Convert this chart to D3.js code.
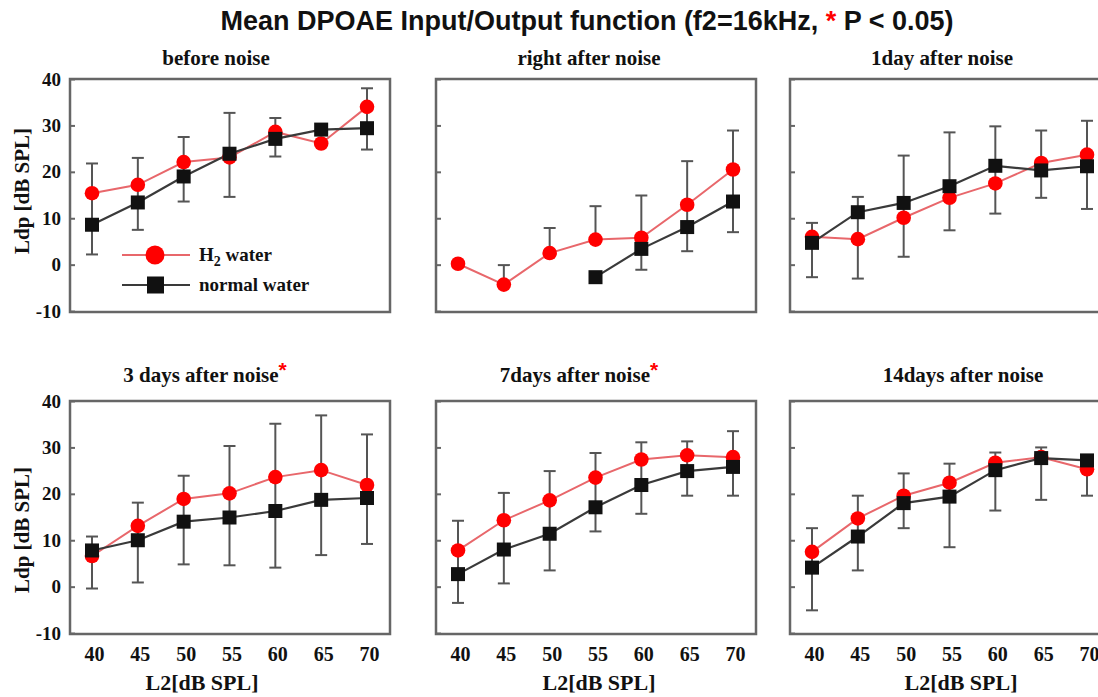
<!DOCTYPE html>
<html><head><meta charset="utf-8">
<script src="https://cdn.jsdelivr.net/npm/d3@7"></script>
<style>body{margin:0;background:#fff} svg{display:block}</style>
</head><body><svg id="c" width="1098" height="697"></svg>
<script>
// ---------- data ----------
const levels = [40, 45, 50, 55, 60, 65, 70];
const yTicks = [-10, 0, 10, 20, 30, 40];
const panelTitles = ["before noise", "right after noise", "1day after noise",
                     "3 days after noise", "7days after noise", "14days after noise"];
const significant = [false, false, false, true, true, false];
const seriesNames = ["H2 water", "normal water"];
const h2Water = [
  [15.4, 17.2, 22.1, 23.1, 28.6, 26.1, 34.0],
  [0.2, -4.3, 2.5, 5.4, 5.8, 12.9, 20.5],
  [6.0, 5.5, 10.1, 14.4, 17.5, 21.9, 23.7],
  [6.6, 13.1, 18.9, 20.1, 23.6, 25.1, 21.9],
  [7.8, 14.3, 18.6, 23.5, 27.4, 28.3, 27.9],
  [7.5, 14.7, 19.6, 22.4, 26.7, 27.9, 25.3]
];
const normalWater = [
  [8.6, 13.4, 19.0, 23.9, 27.1, 29.1, 29.4],
  [null, null, null, -2.7, 3.4, 8.1, 13.6],
  [4.7, 11.3, 13.3, 16.9, 21.3, 20.3, 21.2],
  [7.8, 10.0, 14.0, 14.9, 16.3, 18.7, 19.1],
  [2.7, 8.0, 11.4, 17.1, 21.9, 24.9, 25.8],
  [4.1, 10.8, 18.0, 19.4, 25.1, 27.7, 27.2]
];
const errUpper = [
  [21.8, 23.0, 27.5, 32.7, 31.6, null, 38.0],
  [null, -0.1, 7.9, 12.6, 14.9, 22.3, 28.9],
  [9.0, 14.6, 23.5, 28.5, 29.8, 28.9, 31.0],
  [10.8, 18.1, 23.9, 30.3, 35.1, 36.9, 32.8],
  [14.2, 20.2, 24.9, 28.8, 31.1, 31.3, 33.5],
  [12.6, 19.6, 24.4, 26.5, 28.9, 30.0, null]
];
const errLower = [
  [2.2, 7.5, 13.6, 14.6, 23.3, null, 24.8],
  [null, null, null, null, -1.1, 2.9, 7.0],
  [-2.7, -3.0, 1.7, 7.4, 11.0, 14.4, 12.0],
  [-0.4, 0.9, 4.8, 4.6, 4.1, 6.8, 9.2],
  [-3.5, 0.7, 3.5, 11.9, 15.7, 19.6, 19.6],
  [-5.1, 3.5, 12.6, 8.5, 16.4, 18.7, 19.6]
];

// ---------- layout ----------
const SERIF = "'Liberation Serif','Times New Roman',serif";
const SANS = "'Liberation Sans',Arial,sans-serif";
const colX40 = [92, 458, 812];
const span = 275;
const rowTop = [79, 401];
const plotH = 233;
const titleCX = [216, 589, 942, 205, 579, 963];
const titleBase = [65, 382];
const yLabelCY = [191, 530];
const xLabelCX = [202, 599, 961];
const RED = "#ff0000", REDLINE = "#e8676b", BLK = "#111", BLKLINE = "#3a3a3a", ERR = "#555";

const svg = d3.select("#c");

// main title
const mt = svg.append("text").attr("x", 587).attr("y", 30).attr("text-anchor", "middle")
  .attr("font-family", SANS).attr("font-weight", "bold").attr("font-size", 27).attr("fill", "#111");
mt.append("tspan").text("Mean DPOAE Input/Output function (f2=16kHz, ");
mt.append("tspan").attr("fill", RED).text("*");
mt.append("tspan").text(" P < 0.05)");

panelTitles.forEach((title, i) => {
  const col = i % 3, row = Math.floor(i / 3);
  const x = d3.scaleLinear().domain([40, 70]).range([colX40[col], colX40[col] + span]);
  const y = d3.scaleLinear().domain([-10.2, 40]).range([rowTop[row] + plotH, rowTop[row]]);
  const g = svg.append("g");
  const left = x(40) - 22, right = x(70) + 23;

  // y axis ticks
  const ya = g.append("g").attr("transform", `translate(${left},0)`)
    .call(d3.axisLeft(y).tickValues(yTicks).tickSize(-5).tickPadding(9)
      .tickFormat(col === 0 ? (d => String(d)) : () => ""));
  ya.select(".domain").remove();
  ya.selectAll("line").attr("stroke", "#666").attr("stroke-width", 2);
  ya.selectAll("text").attr("font-family", SERIF).attr("font-weight", "bold")
    .attr("font-size", 19).attr("fill", "#111");

  // x axis labels (bottom row)
  if (row === 1) {
    const xa = g.append("g").attr("transform", `translate(0,${rowTop[row] + plotH})`)
      .call(d3.axisBottom(x).tickValues(levels).tickSize(0).tickPadding(13).tickFormat(d => String(d)));
    xa.select(".domain").remove();
    xa.selectAll("text").attr("font-family", SERIF).attr("font-weight", "bold")
      .attr("font-size", 20).attr("fill", "#111").attr("dx", 2);
    svg.append("text").attr("x", xLabelCX[col]).attr("y", 690).attr("text-anchor", "middle")
      .attr("font-family", SERIF).attr("font-weight", "bold").attr("font-size", 22).attr("fill", "#111")
      .text("L2[dB SPL]");
  }

  // frame
  g.append("rect").attr("x", left).attr("y", rowTop[row]).attr("width", right - left).attr("height", plotH)
    .attr("fill", "none").attr("stroke", "#666").attr("stroke-width", 2.5);

  // panel title
  const t = svg.append("text").attr("x", titleCX[i]).attr("y", titleBase[row]).attr("text-anchor", "middle")
    .attr("font-family", SERIF).attr("font-weight", "bold").attr("font-size", 21).attr("fill", "#111");
  t.append("tspan").text(title);
  if (significant[i]) t.append("tspan").attr("fill", RED).attr("font-family", SANS).attr("dy", -5).text("*");

  // y label
  if (col === 0) {
    svg.append("text").attr("transform", `translate(22,${yLabelCY[row]}) rotate(-90)`)
      .attr("text-anchor", "middle").attr("dominant-baseline", "central")
      .attr("font-family", SERIF).attr("font-weight", "bold").attr("font-size", 21).attr("fill", "#111")
      .text("Ldp [dB SPL]");
  }

  const line = d3.line().defined(d => d != null).x((d, j) => x(levels[j])).y(d => y(d));
  g.append("path").datum(h2Water[i]).attr("d", line).attr("fill", "none")
    .attr("stroke", REDLINE).attr("stroke-width", 2);
  g.append("path").datum(normalWater[i]).attr("d", line).attr("fill", "none")
    .attr("stroke", BLKLINE).attr("stroke-width", 2.2);

  // error bars
  levels.forEach((lv, j) => {
    const up = errUpper[i][j], lo = errLower[i][j];
    if (up == null && lo == null) return;
    const vals = [h2Water[i][j], normalWater[i][j]].filter(v => v != null);
    const top = up != null ? up : d3.max(vals);
    const bot = lo != null ? lo : d3.max(vals);
    const cx = x(lv);
    g.append("line").attr("x1", cx).attr("x2", cx).attr("y1", y(top)).attr("y2", y(bot))
      .attr("stroke", ERR).attr("stroke-width", 2);
    [up, lo].forEach(e => {
      if (e == null) return;
      g.append("line").attr("x1", cx - 6).attr("x2", cx + 6).attr("y1", y(e)).attr("y2", y(e))
        .attr("stroke", ERR).attr("stroke-width", 2);
    });
  });

  // markers
  g.selectAll(".dot").data(h2Water[i].map((v, j) => [levels[j], v]).filter(d => d[1] != null))
    .enter().append("circle").attr("cx", d => x(d[0])).attr("cy", d => y(d[1])).attr("r", 7.3)
    .attr("fill", RED);
  g.selectAll(".sq").data(normalWater[i].map((v, j) => [levels[j], v]).filter(d => d[1] != null))
    .enter().append("rect").attr("x", d => x(d[0]) - 7).attr("y", d => y(d[1]) - 7)
    .attr("width", 14).attr("height", 14).attr("fill", BLK);

  // legend in first panel
  if (i === 0) {
    const lg = svg.append("g");
    const items = [{name: seriesNames[0], yy: 255, c: REDLINE}, {name: seriesNames[1], yy: 285, c: BLKLINE}];
    items.forEach((it, k) => {
      lg.append("line").attr("x1", 122).attr("x2", 190).attr("y1", it.yy).attr("y2", it.yy)
        .attr("stroke", it.c).attr("stroke-width", 2.2);
      if (k === 0) lg.append("circle").attr("cx", 155).attr("cy", it.yy).attr("r", 9.5).attr("fill", RED);
      else lg.append("rect").attr("x", 147).attr("y", it.yy - 8.5).attr("width", 17).attr("height", 17).attr("fill", BLK);
      const tx = lg.append("text").attr("x", 199).attr("y", it.yy + 6)
        .attr("font-family", SERIF).attr("font-weight", "bold").attr("font-size", 19).attr("fill", "#111");
      if (k === 0) {
        tx.append("tspan").text("H");
        tx.append("tspan").attr("font-size", 14).attr("dy", 5).text("2");
        tx.append("tspan").attr("dy", -5).text(" water");
      } else tx.text(it.name);
    });
  }
});
</script></body></html>
